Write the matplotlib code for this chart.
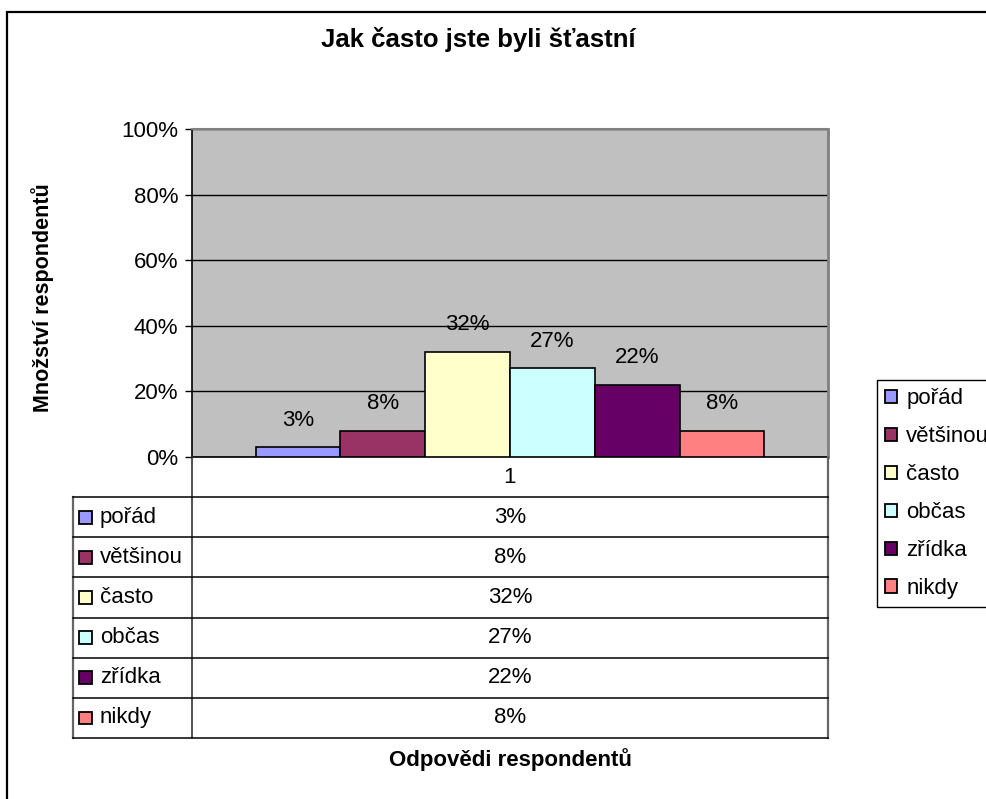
import matplotlib
matplotlib.use("Agg")
import matplotlib.pyplot as plt
from matplotlib.patches import Rectangle, Patch

plt.rcParams['font.family'] = ['Liberation Sans', 'DejaVu Sans']

title = "Jak často jste byli šťastní"
ylabel = "Množství respondentů"
xlabel = "Odpovědi respondentů"
categories = ["1"]
series = ["pořád", "většinou", "často", "občas", "zřídka", "nikdy"]
values = [3, 8, 32, 27, 22, 8]
colors = ["#9999FF", "#993366", "#FFFFCC", "#CCFFFF", "#660066", "#FF8080"]
yticks = [0, 20, 40, 60, 80, 100]

W, H = 987, 799
FS = 16
fig = plt.figure(figsize=(W / 100, H / 100), dpi=100)


def box(x0, y0, x1, y1):
    # pixel box (top-left origin) -> figure fraction rect
    return [x0 / W, 1 - y1 / H, (x1 - x0) / W, (y1 - y0) / H]


# outer chart frame (runs off the right/bottom edge)
fig.patches.append(Rectangle((7 / W, -0.1), 1.2, 1 - 12 / H + 0.1,
                             transform=fig.transFigure, fill=False,
                             edgecolor="black", lw=1.6))

ax = fig.add_axes(box(192, 129, 828, 457))
ax.set_facecolor("#C0C0C0")
n = len(series)
bw = 0.8 / n
for i, (s, v, c) in enumerate(zip(series, values, colors)):
    x = -0.4 + bw * (i + 0.5)
    ax.bar(x, v, width=bw, color=c, edgecolor="black", lw=1.2, zorder=3)
    ax.annotate(f"{v}%", (x, v), xytext=(0, 19.5), textcoords="offset points",
                ha="center", va="center", fontsize=FS, zorder=4)
ax.set_xlim(-0.5, 0.5)
ax.set_ylim(0, 100)
ax.set_yticks(yticks)
ax.set_yticklabels([f"{t}%" for t in yticks], fontsize=FS)
ax.tick_params(axis="y", length=5, width=1, pad=5)
ax.set_xticks([])
ax.yaxis.grid(True, color="black", lw=1, zorder=1)
ax.spines["left"].set_linewidth(1.2)
ax.spines["bottom"].set_linewidth(1.2)
ax.spines["top"].set_color("#808080")
ax.spines["right"].set_color("#808080")
ax.spines["top"].set_linewidth(1.5)
ax.spines["right"].set_linewidth(2)

# data table below the plot
tx0, tx1 = 73, 828
tw = tx1 - tx0
div = (192 - tx0) / tw
tab = fig.add_axes(box(tx0, 457, tx1, 738))
tab.set_xlim(0, 1)
tab.set_ylim(n + 1, 0)
tab.axis("off")
tab.text((div + 1) / 2, 0.5, categories[0], ha="center", va="center", fontsize=FS)
tab.plot([div, div], [0, n + 1], color="#333333", lw=1.2, clip_on=False)
tab.plot([1, 1], [0, n + 1], color="#666666", lw=1.6, clip_on=False)
tab.plot([0, 0], [1, n + 1], color="#666666", lw=1.6, clip_on=False)
for r in range(1, n + 2):
    tab.plot([0, 1], [r, r], color="black", lw=1.1, clip_on=False)
for i, (s, v, c) in enumerate(zip(series, values, colors)):
    y = i + 1.5
    tab.add_patch(Rectangle((6 / tw, y - 0.16), 13 / tw, 0.32, facecolor=c,
                            edgecolor="black", lw=1.3))
    tab.text(27 / tw, y, s, ha="left", va="center", fontsize=FS)
    tab.text((div + 1) / 2, y, f"{v}%", ha="center", va="center", fontsize=FS)

handles = [Patch(facecolor=c, edgecolor="black", lw=1.3) for c in colors]
leg = fig.legend(handles, series, loc="upper left",
                 bbox_to_anchor=(877 / W, 1 - 380 / H), fontsize=FS,
                 handlelength=0.54, handleheight=0.54, handletextpad=0.4,
                 labelspacing=0.76, borderpad=0.38, borderaxespad=0,
                 fancybox=False, framealpha=1, edgecolor="black")
leg.get_frame().set_linewidth(1.0)

fig.text(478 / W, 1 - 40 / H, title, ha="center", va="center",
         fontsize=18.5, fontweight="bold")
fig.text(43 / W, 1 - 298 / H, ylabel, ha="center", va="center",
         rotation=90, fontsize=15.5, fontweight="bold")
fig.text(510 / W, 1 - 760 / H, xlabel, ha="center", va="center",
         fontsize=16, fontweight="bold")

fig.savefig("out.png", dpi=100)
